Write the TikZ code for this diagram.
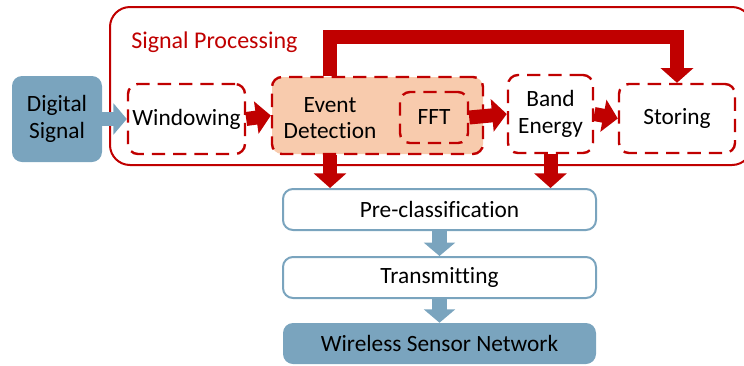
\documentclass[tikz,border=0pt]{standalone}
\usepackage{fontspec}
\setmainfont{Carlito}[Ligatures=NoCommon]
\usetikzlibrary{arrows.meta,positioning}
\definecolor{sigred}{RGB}{192,0,0}
\definecolor{sigblue}{RGB}{122,164,190}
\definecolor{peach}{RGB}{248,203,173}
\tikzset{
    box/.style={rounded corners=7.5pt, align=center, inner sep=0pt, font=\fontsize{17.5}{20}\selectfont}, % common look of all blocks
    redbox/.style={box, draw=sigred, line width=1.8pt, dash pattern=on 10pt off 6pt}, % dashed processing steps
    bluebox/.style={box, draw=sigblue, line width=1.5pt, fill=white},
    darkbox/.style={box, fill=sigblue},
    redarrow/.style={draw=sigred, line width=10.5pt, line join=miter, -{Triangle[width=24pt,length=11pt]}},
    bluearrow/.style={draw=sigblue, line width=11pt, -{Triangle[width=23pt,length=10pt]}},
}

\begin{document}
\begin{tikzpicture}[x=0.75pt,y=-0.75pt]
  \clip (0,0) rectangle (744,365);

  % Signal processing frame
  \node[draw=sigred, line width=1.5pt, rounded corners=15pt,
      minimum width=481.5pt, minimum height=118.5pt] (frame) at (431,86) {};
  \node[text=sigred, font=\fontsize{18}{20}\selectfont, anchor=west, inner sep=0pt] (title) at (131,42) {Signal Processing};

  \node[darkbox, minimum width=67.5pt, minimum height=64.5pt] (dig) at (57,119) {Digital\\Signal};
  \node[redbox, minimum width=87.75pt, minimum height=52.5pt] (win) at (186.5,119) {Windowing};
  \node[redbox, fill=peach, minimum width=158.25pt, minimum height=57.75pt] (det) at (377.5,115.5) {};
  \node[box] (evt) at (330,118) {Event\\Detection};
  \node[redbox, minimum width=51pt, minimum height=38.25pt] (fft) at (434,117.5) {FFT};
  \node[redbox, minimum width=63.75pt, minimum height=58.5pt] (band) at (550.5,114) {Band\\Energy};
  \node[redbox, minimum width=87pt, minimum height=51.75pt] (sto) at (677,118.5) {Storing};

  \node[bluebox, minimum width=234.75pt, minimum height=30.75pt] (pre) at (439.5,209.5) {Pre-classification};
  \node[bluebox, minimum width=234.75pt, minimum height=30.75pt] (tra) at (439.5,277.5) {Transmitting};
  \node[darkbox, minimum width=234.75pt, minimum height=30.75pt] (wsn) at (439.5,343.5) {Wireless Sensor Network};

  \coordinate (top) at (0,37);

  % blue block arrows
  \draw[bluearrow] (dig.east) -- (win.west);
  \draw[bluearrow] (pre.south) -- (tra.north);
  \draw[bluearrow] (tra.south) -- (wsn.north);
  % red block arrows
  \draw[redarrow] (win.east) -- (det.west);
  \draw[redarrow] (fft.east) -- (band.west);
  \draw[redarrow] (band.east) -- (sto.west);
  \draw[redarrow] (evt |- det.south) -- (evt |- pre.north);
  \draw[redarrow] (band.south) -- (band.south |- pre.north);
  \draw[redarrow] (evt |- det.north) -- (evt |- top) -| (sto.north);
\end{tikzpicture}
\end{document}
